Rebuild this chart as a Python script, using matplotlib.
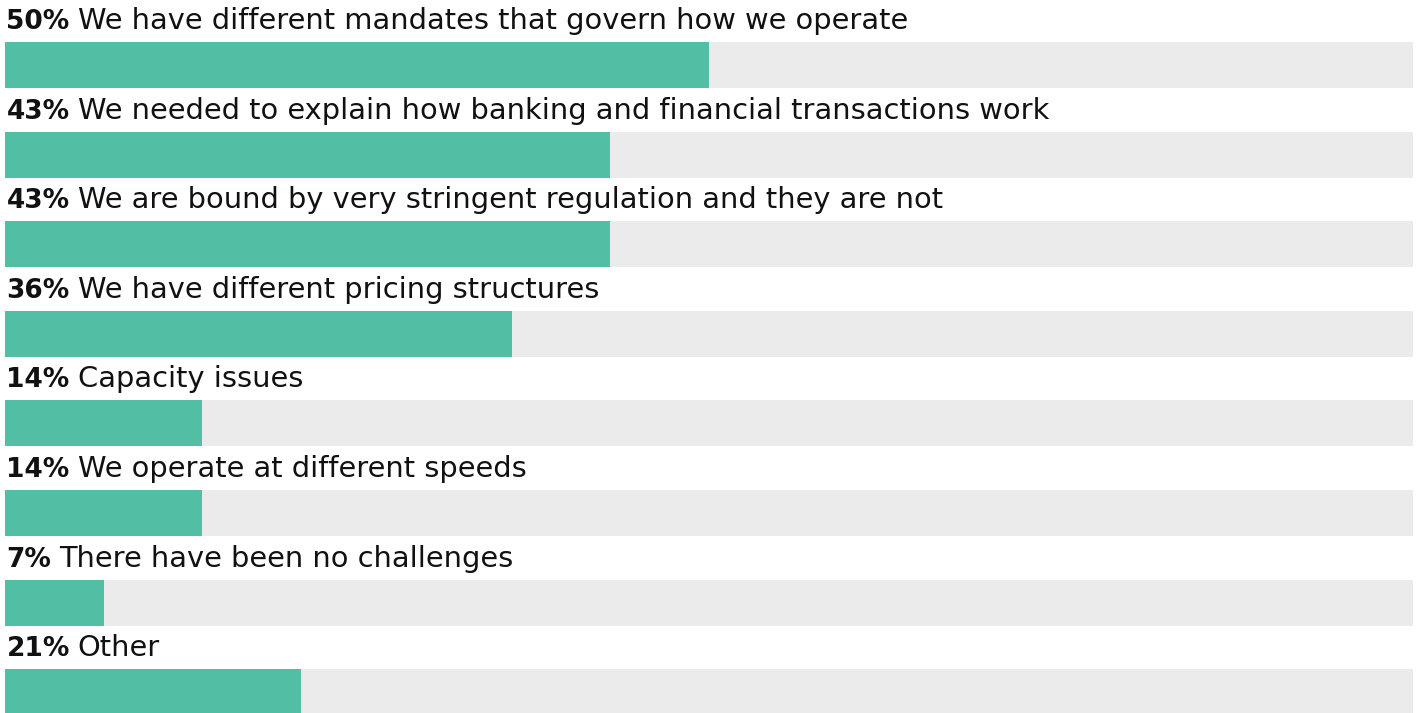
import matplotlib
matplotlib.use('Agg')
import matplotlib.pyplot as plt

pcts = [50, 43, 43, 36, 14, 14, 7, 21]
labels = [
    'We have different mandates that govern how we operate',
    'We needed to explain how banking and financial transactions work',
    'We are bound by very stringent regulation and they are not',
    'We have different pricing structures',
    'Capacity issues',
    'We operate at different speeds',
    'There have been no challenges',
    'Other',
]

TEAL = '#52bea4'
GRAY = '#ebebeb'
FONT = 'DejaVu Sans'

W, H = 1416, 713
fig = plt.figure(figsize=(W / 100, H / 100), dpi=100)
# axes spans the bar track horizontally, full height in pixel units vertically
ax = fig.add_axes([5 / W, 0, 1408 / W, 1])
ax.set_xlim(0, 100)
ax.set_ylim(H, 0)
ax.axis('off')

bar_h = 46
step = 89.6
first_top = 42

for i, (p, lab) in enumerate(zip(pcts, labels)):
    top = first_top + i * step
    ax.barh(top + bar_h / 2, 100, height=bar_h, left=0, color=GRAY, zorder=1)
    ax.barh(top + bar_h / 2, p, height=bar_h, left=0, color=TEAL, zorder=2)

fig.canvas.draw()
renderer = fig.canvas.get_renderer()
for i, (p, lab) in enumerate(zip(pcts, labels)):
    base = first_top + i * step - 13
    t = ax.text(0.1, base, f'{p}%', fontsize=19, fontweight='bold', family=FONT,
                color='#111111', va='baseline', ha='left')
    bb = t.get_window_extent(renderer)
    x1 = ax.transData.inverted().transform((bb.x1 + 8, 0))[0]
    ax.text(x1, base, lab, fontsize=20.8, family=FONT, color='#111111',
            va='baseline', ha='left')

fig.savefig('out.png', dpi=100)
